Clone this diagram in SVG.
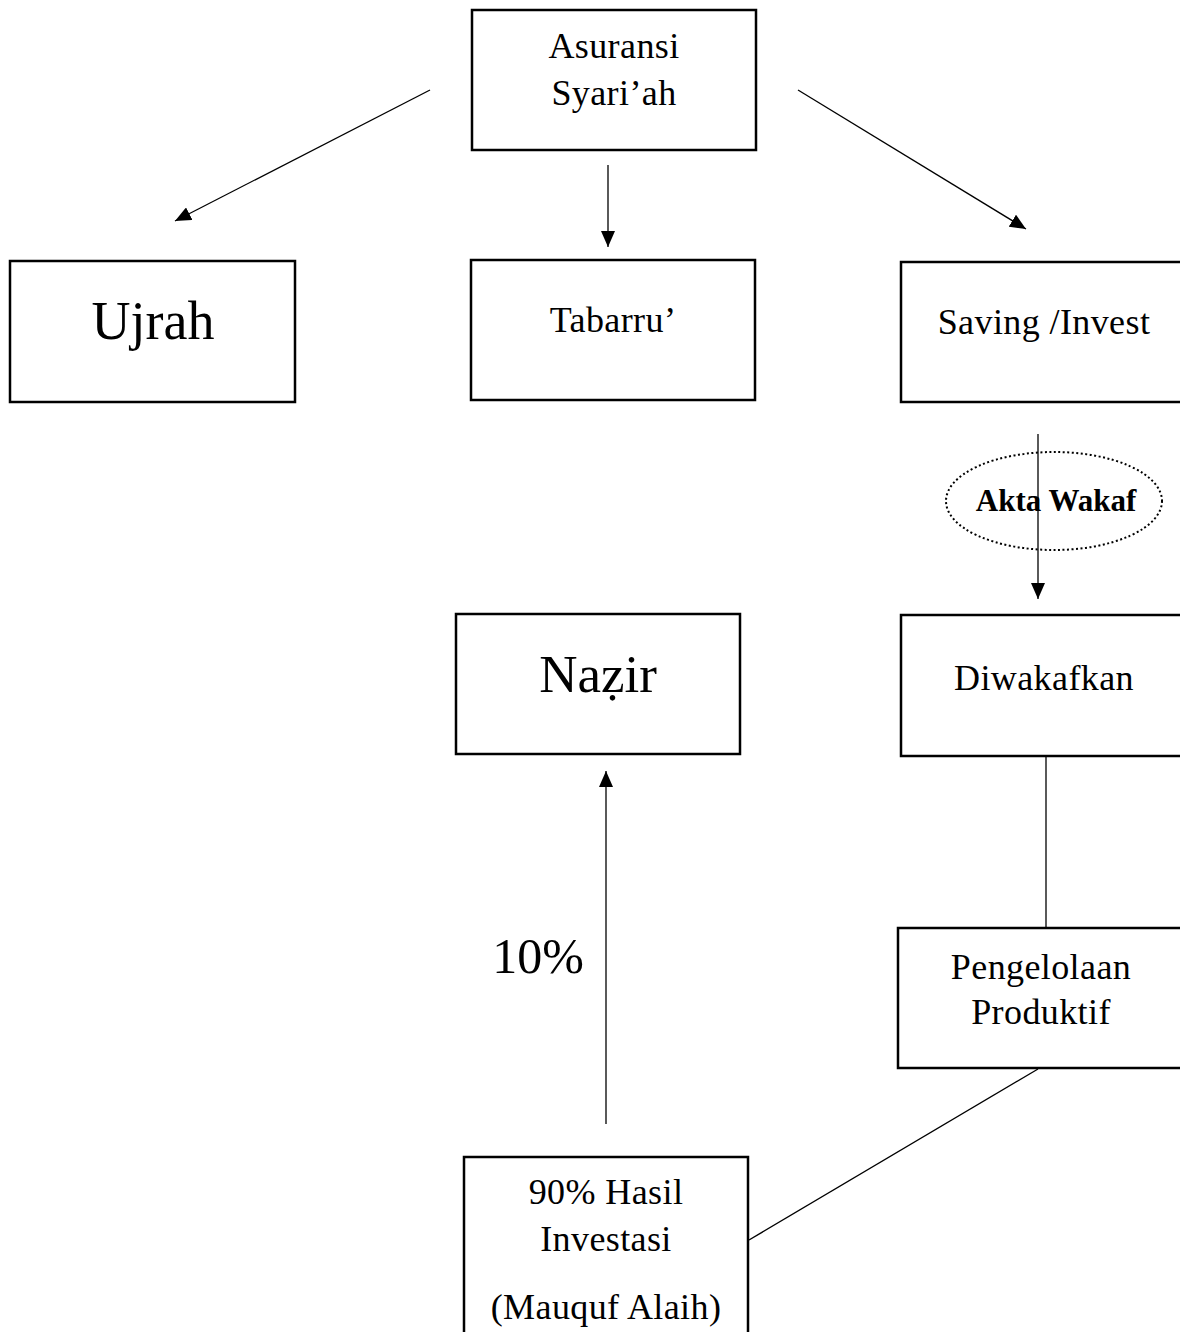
<svg xmlns="http://www.w3.org/2000/svg" width="1180" height="1332" viewBox="0 0 1180 1332">
<style>
.box{fill:#fff;stroke:#000;stroke-width:2.5}
.t{font-family:"Liberation Serif","Times New Roman",serif;fill:#000;text-anchor:middle}
.m{font-size:36px;letter-spacing:0.4px}
.c{stroke:#000;stroke-width:1.3;fill:none}
</style>
<defs>
<marker id="ah" viewBox="0 0 16 14" refX="16" refY="7" markerWidth="16" markerHeight="14" markerUnits="userSpaceOnUse" orient="auto">
<path d="M0,0 L16,7 L0,14 Z" fill="#000"/>
</marker>
</defs>
<rect width="1180" height="1332" fill="#fff"/>
<g id="connectors">
<line class="c" x1="430" y1="90" x2="175" y2="221" marker-end="url(#ah)"/>
<line class="c" x1="608" y1="165" x2="608" y2="247" marker-end="url(#ah)"/>
<line class="c" x1="798" y1="90" x2="1026" y2="229" marker-end="url(#ah)"/>
<line class="c" x1="1038" y1="434" x2="1038" y2="599" marker-end="url(#ah)"/>
<line class="c" x1="1046" y1="757" x2="1046" y2="929"/>
<line class="c" x1="1038" y1="1069" x2="749" y2="1240"/>
<line class="c" x1="606" y1="1124" x2="606" y2="771" marker-end="url(#ah)"/>
</g>
<g id="asuransi">
<rect class="box" x="472" y="10" width="284" height="140"/>
<text class="t m" x="614" y="58">Asuransi</text>
<text class="t m" x="614" y="105">Syari’ah</text>
</g>
<g id="ujrah">
<rect class="box" x="10" y="261" width="285" height="141"/>
<text class="t" x="153" y="339" font-size="54">Ujrah</text>
</g>
<g id="tabarru">
<rect class="box" x="471" y="260" width="284" height="140"/>
<text class="t m" x="613" y="332">Tabarru’</text>
</g>
<g id="saving">
<rect class="box" x="901" y="262" width="284" height="140"/>
<text class="t m" x="1044" y="334">Saving /Invest</text>
</g>
<g id="akta">
<ellipse cx="1054" cy="501" rx="108" ry="49" fill="none" stroke="#000" stroke-width="2" stroke-dasharray="2,2.5"/>
<text class="t" x="1056" y="511" font-size="31" font-weight="bold">Akta Wakaf</text>
</g>
<g id="diwakafkan">
<rect class="box" x="901" y="615" width="284" height="141"/>
<text class="t m" x="1044" y="690">Diwakafkan</text>
</g>
<g id="nazir">
<rect class="box" x="456" y="614" width="284" height="140"/>
<text class="t" x="598" y="692" font-size="53">Naẓir</text>
</g>
<g id="pengelolaan">
<rect class="box" x="898" y="928" width="287" height="140"/>
<text class="t m" x="1041" y="979">Pengelolaan</text>
<text class="t m" x="1041" y="1024">Produktif</text>
</g>
<g id="hasil">
<rect class="box" x="464" y="1157" width="284" height="190"/>
<text class="t m" x="606" y="1204">90% Hasil</text>
<text class="t m" x="606" y="1251">Investasi</text>
<text class="t m" x="606" y="1319">(Mauquf Alaih)</text>
</g>
<text class="t" x="538" y="973" font-size="50">10%</text>
</svg>
